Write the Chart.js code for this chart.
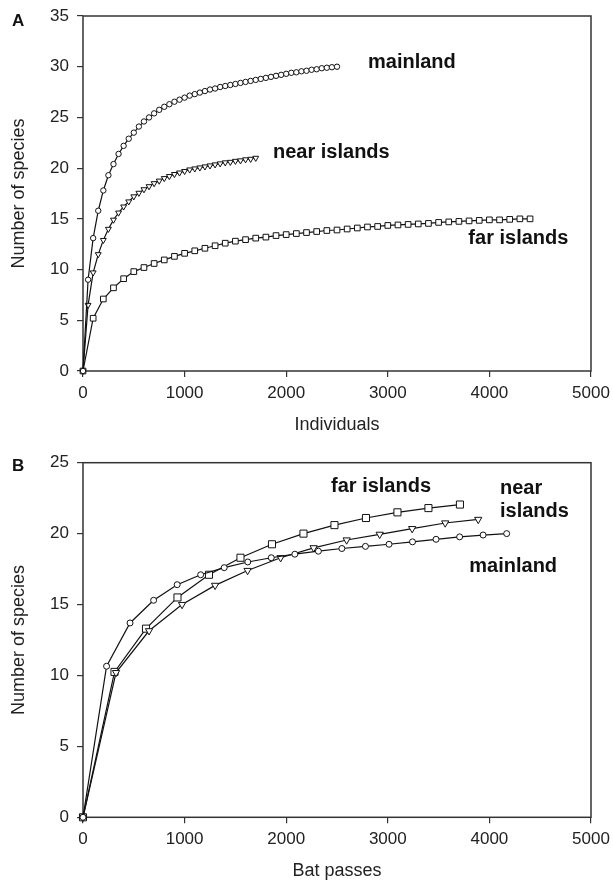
<!DOCTYPE html>
<html><head><meta charset="utf-8">
<script src="https://cdn.jsdelivr.net/npm/chart.js@4"></script>
<style>
html,body{margin:0;padding:0;background:#fff;}
#wrapA{position:absolute;left:0;top:0;width:613px;height:440px;}
#wrapB{position:absolute;left:0;top:440px;width:613px;height:442px;}
</style></head><body>
<div id="wrapA"><canvas id="chartA" width="613" height="440"></canvas></div>
<div id="wrapB"><canvas id="chartB" width="613" height="442"></canvas></div>
<script>
// ---------- Panel A: individuals ----------
const aMainlandX = [0,50,100,150,200,250,300,350,400,450,500,550,600,650,700,750,800,850,900,950,1000,1050,1100,1150,1200,1250,1300,1350,1400,1450,1500,1550,1600,1650,1700,1750,1800,1850,1900,1950,2000,2050,2100,2150,2200,2250,2300,2350,2400,2450,2500];
const aMainlandY = [0,9.0,13.1,15.8,17.8,19.3,20.4,21.4,22.2,22.9,23.5,24.1,24.6,25.0,25.4,25.75,26.05,26.3,26.55,26.75,26.95,27.15,27.3,27.45,27.6,27.75,27.85,28.0,28.1,28.2,28.3,28.4,28.5,28.6,28.7,28.8,28.9,29.0,29.1,29.2,29.3,29.4,29.45,29.55,29.6,29.7,29.75,29.85,29.9,29.95,30.0];
const aNearX = [0,50,100,150,200,250,300,350,400,450,500,550,600,650,700,750,800,850,900,950,1000,1050,1100,1150,1200,1250,1300,1350,1400,1450,1500,1550,1600,1650,1700];
const aNearY = [0,6.5,9.7,11.5,12.9,14.0,14.9,15.6,16.2,16.7,17.2,17.55,17.9,18.2,18.5,18.75,19.0,19.2,19.4,19.55,19.7,19.85,19.95,20.05,20.15,20.25,20.35,20.45,20.55,20.6,20.7,20.75,20.85,20.9,21.0];
const aFarX = [0,100,200,300,400,500,600,700,800,900,1000,1100,1200,1300,1400,1500,1600,1700,1800,1900,2000,2100,2200,2300,2400,2500,2600,2700,2800,2900,3000,3100,3200,3300,3400,3500,3600,3700,3800,3900,4000,4100,4200,4300,4400];
const aFarY = [0,5.2,7.1,8.2,9.1,9.8,10.2,10.6,10.95,11.3,11.6,11.85,12.1,12.35,12.6,12.8,12.95,13.1,13.2,13.35,13.45,13.55,13.65,13.75,13.85,13.9,14.0,14.1,14.2,14.25,14.35,14.4,14.45,14.5,14.55,14.65,14.7,14.75,14.8,14.85,14.9,14.9,14.95,15.0,15.0];

// ---------- Panel B: bat passes ----------
const bMainlandX = [0,232,463,695,927,1158,1390,1622,1853,2085,2317,2548,2780,3012,3243,3475,3707,3938,4170];
const bMainlandY = [0,10.65,13.7,15.3,16.4,17.1,17.6,18.0,18.3,18.55,18.76,18.95,19.1,19.25,19.42,19.6,19.77,19.9,20.0];
const bNearX = [0,325,650,975,1300,1620,1945,2270,2595,2920,3240,3565,3890];
const bNearY = [0,10.2,13.15,15.0,16.35,17.4,18.3,19.0,19.55,19.95,20.35,20.75,21.0];
const bFarX = [0,310,620,930,1240,1550,1860,2170,2475,2785,3095,3400,3710];
const bFarY = [0,10.25,13.3,15.5,17.1,18.3,19.25,20.0,20.6,21.1,21.5,21.8,22.05];

const xTicks = [0,1000,2000,3000,4000,5000];
const aYTicks = [0,5,10,15,20,25,30,35];
const bYTicks = [0,5,10,15,20,25];

const FONT = '"Liberation Sans", Arial, sans-serif';

function pts(xs, ys){ return xs.map((x,i)=>({x:x, y:ys[i]})); }

function ds(label, xs, ys, style, r, rot){
  return {label, data: pts(xs,ys), showLine:true, borderColor:'#111', borderWidth:1.2,
    pointStyle:style, pointRadius:r, pointRotation:rot||0, pointBorderWidth:1,
    pointBorderColor:'#111', pointBackgroundColor:'#fff', backgroundColor:'#fff',
    tension:0, clip:false};
}

const framePlugin = {
  id:'frame',
  beforeDatasetsDraw(chart){
    const {ctx, chartArea:a} = chart;
    ctx.save(); ctx.strokeStyle='#333'; ctx.lineWidth=1.5;
    ctx.strokeRect(a.left, a.top, a.right-a.left, a.bottom-a.top);
    ctx.restore();
  }
};
const textPlugin = {
  id:'texts',
  afterDraw(chart, args, opts){
    const ctx = chart.ctx, sx = chart.scales.x, sy = chart.scales.y;
    ctx.save(); ctx.fillStyle='#111'; ctx.textBaseline='middle'; ctx.textAlign='left';
    (opts.items||[]).forEach(it=>{
      ctx.font = 'bold 20px ' + FONT;
      ctx.fillText(it.text, sx.getPixelForValue(it.x), sy.getPixelForValue(it.y));
    });
    if (opts.panel){
      ctx.font = 'bold 17px ' + FONT;
      ctx.fillText(opts.panel.text, opts.panel.px, opts.panel.py);
    }
    ctx.restore();
  }
};

function makeChart(id, datasets, yMax, yTicks, xTitle, padTop, xHeight, titlePadB, items, panel){
  return new Chart(document.getElementById(id), {
    type:'scatter',
    data:{datasets},
    options:{
      responsive:false, animation:false, devicePixelRatio:1,
      layout:{padding:{left:0,right:22,top:padTop,bottom:0}},
      plugins:{legend:{display:false}, tooltip:{enabled:false}, texts:{items, panel}},
      scales:{
        x:{type:'linear', min:0, max:5000,
          afterBuildTicks(s){ s.ticks = xTicks.map(v=>({value:v})); },
          afterFit(s){ s.height = xHeight; s.paddingLeft = 0; s.paddingRight = 0; },
          border:{display:false},
          grid:{drawOnChartArea:false, drawTicks:true, tickLength:6, color:'#333', lineWidth:1.2},
          ticks:{color:'#222', padding:6, maxRotation:0, font:{family:FONT, size:17},
            callback:(v)=>String(v)},
          title:{display:true, text:xTitle, color:'#222', padding:{top:0,bottom:titlePadB}, font:{family:FONT, size:18}}
        },
        y:{type:'linear', min:0, max:yMax,
          afterBuildTicks(s){ s.ticks = yTicks.map(v=>({value:v})); },
          afterFit(s){ s.width = 83; s.paddingTop = 0; s.paddingBottom = 0; },
          border:{display:false},
          grid:{drawOnChartArea:false, drawTicks:true, tickLength:6, color:'#333', lineWidth:1.2},
          ticks:{color:'#222', padding:8, font:{family:FONT, size:17}, callback:(v)=>String(v)},
          title:{display:true, text:'Number of species', color:'#222', padding:{top:8,bottom:0}, font:{family:FONT, size:18}}
        }
      }
    },
    plugins:[framePlugin, textPlugin]
  });
}

makeChart('chartA', [
  ds('mainland', aMainlandX, aMainlandY, 'circle', 2.7),
  ds('near islands', aNearX, aNearY, 'triangle', 3.4, 180),
  ds('far islands', aFarX, aFarY, 'rect', 4.0)
], 35, aYTicks, 'Individuals', 16, 69, 4,
  [{text:'mainland', x:2805, y:30.4}, {text:'near islands', x:1870, y:21.5}, {text:'far islands', x:3793, y:13.1}],
  {text:'A', px:12, py:21});

makeChart('chartB', [
  ds('mainland', bMainlandX, bMainlandY, 'circle', 3.0),
  ds('near islands', bNearX, bNearY, 'triangle', 4.2, 180),
  ds('far islands', bFarX, bFarY, 'rect', 5.0)
], 25, bYTicks, 'Bat passes', 22.7, 64.7, 0,
  [{text:'far islands', x:2441, y:23.3}, {text:'near', x:4104, y:23.2}, {text:'islands', x:4104, y:21.55}, {text:'mainland', x:3802, y:17.7}],
  {text:'B', px:12, py:26});
</script>
</body></html>
